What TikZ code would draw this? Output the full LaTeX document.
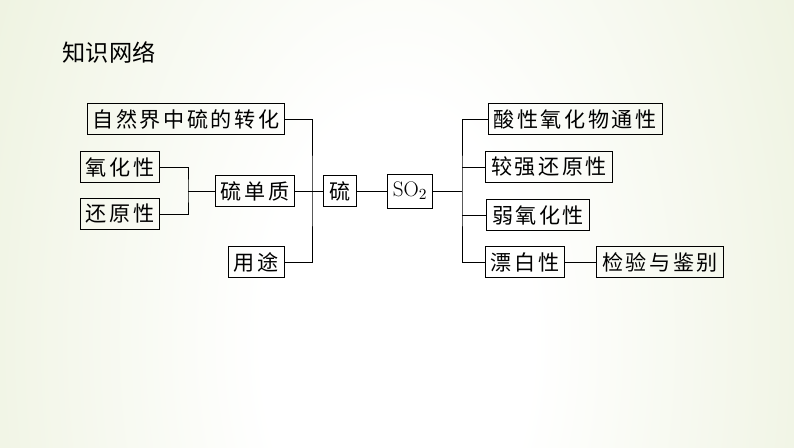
\documentclass[tikz,border=0pt]{standalone}
\usepackage{fontspec}
\usepackage{tikz}
\usetikzlibrary{calc}
\newfontfamily\cjk{Noto Sans CJK SC}
\newfontfamily\cjkwide[LetterSpace=12]{Noto Sans CJK SC}
\definecolor{bggreen}{RGB}{218,228,188}
\pgfdeclareradialshading{bgglow}{\pgfpoint{0bp}{0bp}}{color(0bp)=(white); color(8bp)=(white); color(50bp)=(bggreen); color(100bp)=(bggreen)}

\begin{document}
\begin{tikzpicture}[x=0.025cm, y=-0.025cm, line width=0.6pt,
		font=\cjkwide\fontsize{15}{18}\selectfont,
		box/.style={draw, inner xsep=4pt, inner ysep=0pt, minimum height=0.78cm}]
		% background
		\useasboundingbox (0,0) rectangle (794,447);
		\begin{scope}
			\clip (0,0) rectangle (794,447);
			\shade[shading=bgglow] (-23,-380) rectangle (817,1060);
		\end{scope}
		\node[font=\cjk\fontsize{16.5}{20}\selectfont] (title) at (109,53) {知识网络};
		% left part
		\node[box] (nature) at (186,119) {自然界中硫的转化};
		\node[box] (oxid) at (120,167) {氧化性};
		\node[box] (redu) at (120,214) {还原性};
		\node[box] (elem) at (255,191) {硫单质};
		\node[box] (use) at (256,262) {用途};
		\node[box] (sulfur) at (340,191) {硫};
		\node[box, font=\fontsize{15}{18}\selectfont, minimum height=0.85cm] (so2) at (410,191) {SO$_2$};
		% right part
		\node[box] (acid) at (575,119) {酸性氧化物通性};
		\node[box] (strong) at (549,167) {较强还原性};
		\node[box] (weak) at (538,215) {弱氧化性};
		\node[box] (bleach) at (525,262) {漂白性};
		\node[box] (test) at (660,262) {检验与鉴别};
		% connectors
		\coordinate (oj) at (188,191);
		\coordinate (lj) at (312,191);
		\coordinate (rj) at (462,191);
		\draw (oxid.east) -| (oj) |- (redu.east);
		\draw (oj) -- (elem.west);
		\draw (nature.east) -| (lj) |- (use.east);
		\draw (elem.east) -- (sulfur.west);
		\draw (sulfur.east) -- (so2.west);
		\draw (so2.east) -- (rj);
		\draw (acid.west) -| (rj) |- (bleach.west);
		\draw (strong.west) -- (strong.west -| rj);
		\draw (weak.west) -- (weak.west -| rj);
		\draw (bleach.east) -- (test.west);
	\end{tikzpicture}
\end{document}
